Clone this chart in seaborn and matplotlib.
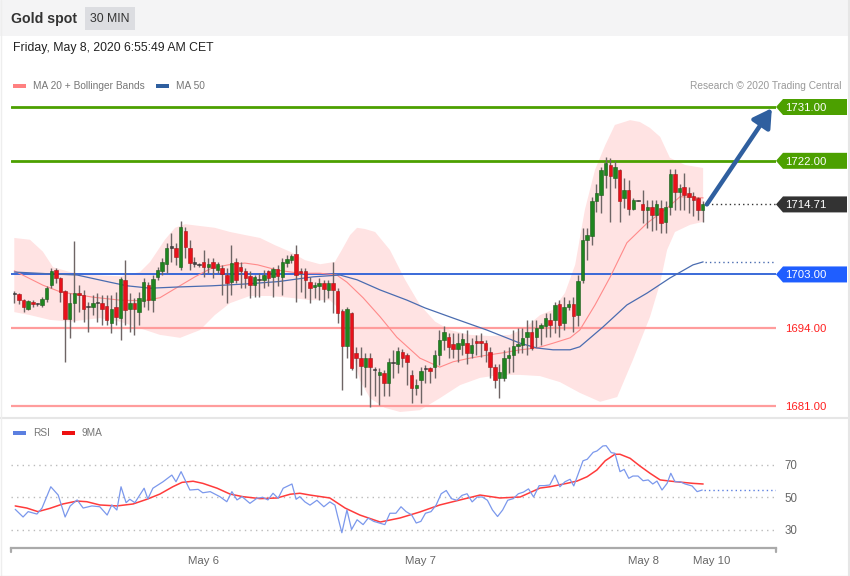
import numpy as np
import pandas as pd
import matplotlib
matplotlib.use("Agg")
import matplotlib.pyplot as plt
import matplotlib.transforms as mtransforms
from matplotlib.patches import Polygon, Rectangle
from matplotlib.lines import Line2D
import seaborn as sns

# ---------------- DATA ----------------
opens = [1699.7,1699.7,1698.7,1697.3,1698.4,1698.0,1697.9,1698.9,1701.2,1703.7,
         1702.4,1700.3,1695.5,1698.3,1699.9,1699.5,1697.5,1697.6,1698.2,1698.2,
         1697.7,1694.8,1697.5,1695.7,1702.1,1697.2,1698.3,1696.8,1698.6,1701.2,
         1698.7,1702.6,1703.5,1704.7,1707.5,1707.5,1704.3,1710.2,1707.4,1705.0,
         1704.6,1705.0,1704.3,1705.1,1703.7,1704.1,1702.9,1701.8,1705.1,1704.3,
         1703.5,1702.7,1701.2,1702.0,1702.1,1703.5,1702.6,1703.9,1702.6,1704.9,
         1705.4,1706.4,1703.6,1703.6,1701.8,1700.9,1701.0,1701.5,1700.4,1701.6,
         1700.3,1696.9,1691.0,1696.5,1689.8,1689.1,1687.6,1689.0,1687.1,1686.2,
         1686.6,1684.9,1688.3,1688.0,1690.1,1689.5,1686.2,1684.0,1685.3,1687.2,
         1687.3,1687.6,1689.5,1692.0,1692.5,1691.3,1690.5,1691.2,1691.5,1689.8,
         1691.8,1691.8,1691.5,1690.1,1687.6,1685.6,1685.6,1689.0,1689.5,1691.1,
         1691.2,1692.6,1693.4,1692.6,1694.0,1694.3,1695.4,1695.4,1698.1,1694.8,
         1697.6,1698.1,1696.2,1702.1,1708.7,1709.4,1715.3,1716.3,1719.6,1721.3,
         1719.1,1720.4,1715.7,1717.2,1713.9,1715.4,1714.7,1713.8,1714.2,1712.9,
         1714.1,1711.7,1714.3,1719.8,1716.8,1717.6,1716.6,1716.2,1715.7,1713.8]
highs = [1700.3,1699.9,1698.9,1698.8,1698.7,1698.3,1699.2,1701.0,1704.0,1704.1,
         1702.6,1700.4,1699.9,1708.6,1701.2,1700.4,1698.4,1699.6,1699.9,1699.6,
         1699.6,1699.6,1700.1,1702.6,1705.4,1699.9,1699.0,1700.1,1702.4,1701.7,
         1702.9,1704.3,1705.7,1708.2,1709.9,1708.2,1712.0,1711.0,1708.8,1706.0,
         1704.9,1707.1,1705.7,1705.7,1705.1,1704.6,1704.0,1707.9,1705.7,1705.1,
         1704.0,1703.5,1702.9,1703.2,1703.7,1703.7,1704.3,1704.6,1705.7,1706.3,
         1706.5,1707.9,1704.0,1704.0,1702.6,1701.8,1702.4,1702.1,1702.1,1705.1,
         1700.7,1697.3,1697.6,1696.8,1690.9,1690.9,1689.8,1689.8,1687.6,1687.3,
         1687.0,1689.0,1690.4,1690.8,1690.6,1689.8,1687.0,1685.5,1687.6,1687.9,
         1687.6,1690.4,1693.7,1694.3,1693.2,1693.2,1693.2,1693.2,1693.7,1692.3,
         1692.9,1693.2,1692.0,1690.9,1688.1,1688.1,1690.4,1690.9,1693.7,1694.0,
         1694.0,1695.4,1695.4,1695.4,1694.8,1696.5,1696.5,1698.4,1698.7,1699.3,
         1698.8,1699.3,1702.9,1710.7,1710.7,1716.0,1718.2,1721.0,1722.7,1722.4,
         1721.9,1720.7,1719.1,1718.8,1715.7,1715.5,1717.1,1715.4,1715.4,1715.4,
         1715.4,1715.2,1720.6,1720.6,1718.2,1719.9,1717.7,1716.8,1716.0,1715.2]
lows = [1698.2,1698.1,1696.8,1697.1,1697.6,1697.7,1697.6,1698.4,1700.7,1701.5,
        1698.4,1688.4,1692.3,1695.1,1696.8,1695.1,1693.3,1696.2,1695.1,1694.5,
        1694.5,1693.2,1694.5,1692.0,1694.5,1693.4,1692.8,1694.5,1697.6,1697.1,
        1696.8,1702.1,1702.9,1703.2,1705.1,1704.6,1703.7,1705.7,1703.7,1704.3,
        1704.3,1702.6,1703.2,1702.4,1703.2,1699.6,1698.2,1699.6,1701.5,1700.7,
        1700.7,1699.0,1699.3,1699.3,1700.7,1701.0,1699.3,1701.0,1699.6,1704.3,
        1704.9,1698.4,1700.1,1699.0,1698.2,1699.0,1698.7,1698.4,1699.0,1696.5,
        1694.8,1683.7,1689.0,1687.0,1685.6,1682.8,1684.2,1680.9,1682.6,1681.2,
        1682.6,1682.6,1685.6,1686.5,1687.6,1684.5,1681.5,1682.8,1681.5,1684.8,
        1684.8,1685.6,1687.9,1690.4,1689.0,1689.0,1688.4,1689.5,1688.1,1689.0,
        1689.5,1689.2,1688.4,1685.6,1684.0,1682.3,1685.1,1686.5,1686.7,1689.8,
        1689.8,1689.5,1690.4,1690.9,1691.2,1692.6,1692.6,1693.2,1692.6,1693.7,
        1697.1,1693.4,1694.3,1701.5,1705.4,1707.9,1713.5,1713.2,1717.4,1711.8,
        1717.4,1711.8,1714.1,1712.9,1713.8,1715.2,1711.6,1710.7,1710.2,1710.4,
        1709.9,1710.0,1712.9,1713.8,1713.8,1713.8,1713.2,1712.7,1712.1,1711.8]
closes = [1699.9,1698.7,1697.6,1698.6,1698.0,1698.1,1698.9,1700.7,1703.5,1702.4,
          1700.1,1695.5,1698.3,1699.9,1699.5,1697.3,1697.6,1698.2,1698.3,1697.3,
          1695.4,1697.3,1695.9,1702.2,1697.1,1698.3,1697.2,1699.1,1701.8,1698.7,
          1702.2,1703.7,1705.1,1707.5,1707.7,1706.0,1710.9,1707.6,1704.9,1704.8,
          1704.6,1704.2,1704.7,1704.1,1704.7,1703.0,1701.5,1704.9,1702.1,1703.5,
          1702.4,1701.2,1702.5,1702.1,1702.9,1702.4,1703.9,1702.8,1705.1,1705.6,
          1706.1,1702.9,1703.2,1702.0,1700.8,1701.2,1701.6,1700.5,1701.6,1700.4,
          1696.6,1691.0,1697.2,1687.4,1689.1,1687.7,1689.1,1687.5,1687.0,1686.7,
          1684.9,1688.3,1688.2,1690.2,1689.0,1688.4,1684.0,1684.5,1686.9,1687.3,
          1686.9,1689.5,1692.0,1693.4,1690.9,1690.5,1691.5,1692.2,1689.8,1691.2,
          1691.5,1691.5,1690.4,1687.6,1685.3,1686.7,1689.1,1689.5,1691.1,1691.4,
          1692.3,1693.4,1690.7,1694.0,1694.5,1695.7,1694.5,1697.9,1694.5,1697.6,
          1698.1,1696.1,1701.9,1708.8,1709.6,1715.2,1716.6,1720.4,1721.6,1719.5,
          1720.9,1715.2,1717.1,1713.9,1715.4,1715.3,1713.8,1714.3,1712.9,1714.7,
          1711.6,1714.3,1719.8,1716.8,1717.4,1716.3,1716.0,1715.4,1713.8,1714.71]

# Bollinger bands (bar index, price)
bb_up_x = [0, 3.4, 6.2, 8.4, 12.1, 17.0, 22.9, 27.2, 29.4, 32.6, 34.8, 37.0, 40.2, 43.4, 46.7,
           49.9, 53.2, 56.4, 59.7, 62.9, 66.2, 69.4, 70.9, 72.7, 74.2, 75.9, 78.1, 81.3, 84.6,
           87.8, 91.1, 94.3, 98.6, 103.0, 107.3, 110.5, 113.8, 116.6, 119.2, 121.4, 123.5,
           125.7, 127.9, 130.0, 133.3, 135.4, 137.6, 139.8, 141.9, 145.2, 149.1]
bb_up = [1709.1, 1708.8, 1706.8, 1704.2, 1703.4, 1702.9, 1702.7, 1703.4, 1705.1, 1708.8, 1710.8,
         1711.4, 1711.1, 1710.8, 1710.1, 1709.6, 1709.1, 1707.9, 1706.8, 1705.4, 1704.7, 1705.1,
         1707.1, 1709.6, 1710.8, 1710.6, 1710.1, 1707.1, 1702.1, 1697.9, 1695.1, 1693.7, 1692.9,
         1692.7, 1692.9, 1694.0, 1696.2, 1697.1, 1699.9, 1704.6, 1713.8, 1720.5, 1724.6, 1728.0,
         1728.8, 1728.5, 1727.5, 1726.0, 1722.5, 1721.3, 1720.8]
bb_lo_x = [0, 3.4, 7.7, 12.1, 18.5, 22.9, 27.2, 31.5, 35.9, 40.2, 43.4, 46.7, 51.0, 55.3, 59.7,
           64.0, 68.3, 70.5, 72.7, 74.8, 77.0, 80.2, 83.5, 87.8, 92.1, 96.5, 100.8, 105.1, 109.5,
           113.8, 118.1, 122.4, 126.8, 130.5, 133.9, 137.6, 139.8, 141.3, 143.0, 146.3, 149.1]
bb_lo = [1696.7, 1696.2, 1695.4, 1695.1, 1695.7, 1695.1, 1694.0, 1692.9, 1692.4, 1693.7, 1696.2,
         1698.2, 1699.4, 1699.4, 1699.1, 1698.7, 1698.7, 1697.1, 1691.2, 1685.3, 1682.3, 1680.7,
         1680.0, 1680.3, 1682.3, 1684.5, 1685.7, 1686.2, 1686.2, 1686.0, 1685.0, 1683.2, 1681.7,
         1682.5, 1688.7, 1695.9, 1701.6, 1707.1, 1710.1, 1711.3, 1711.8]
ma20_x = [0, 6.2, 9.9, 17.0, 22.9, 27.9, 31.5, 35.4, 39.1, 42.8, 46.3, 49.9, 52.7, 57.1, 61.8,
          66.2, 69.8, 72.0, 75.5, 79.2, 82.8, 87.8, 92.1, 95.0, 98.6, 102.3, 105.8, 109.5, 113.1,
          116.6, 120.3, 122.4, 125.7, 129.0, 132.6, 137.0, 141.3, 144.1, 149.1]
ma20 = [1703.6, 1701.2, 1700.1, 1699.2, 1698.7, 1698.6, 1699.1, 1700.9, 1702.6, 1704.1, 1704.6,
        1704.9, 1704.6, 1703.7, 1703.2, 1703.2, 1702.9, 1701.7, 1699.1, 1695.9, 1692.5, 1689.0,
        1687.5, 1688.4, 1689.0, 1689.5, 1689.9, 1690.4, 1690.7, 1691.5, 1692.4, 1693.7, 1697.9,
        1702.6, 1708.3, 1711.6, 1714.1, 1716.0, 1715.8]
ma50_x = [0, 7.7, 13.6, 20.7, 24.4, 29.4, 35.4, 42.8, 49.9, 57.1, 64.7, 70.5, 74.2, 79.2, 85.0,
          88.9, 95.0, 102.3, 109.5, 113.1, 116.6, 120.3, 122.4, 127.4, 132.6, 137.0, 141.9,
          146.9, 149.1]
ma50 = [1703.4, 1703.1, 1702.9, 1701.7, 1701.1, 1700.7, 1700.9, 1701.1, 1701.4, 1701.8, 1702.6,
        1702.9, 1702.1, 1700.4, 1698.7, 1697.4, 1695.7, 1693.7, 1691.5, 1690.7, 1690.4, 1690.4,
        1690.9, 1694.2, 1697.9, 1699.9, 1702.4, 1704.6, 1705.1]

# RSI panel
rsi_x = [0.2, 1.9, 3.0, 4.9, 6.0, 7.9, 9.5, 11.0, 12.1, 13.6, 14.9, 16.8, 18.5, 20.1, 21.1, 22.2,
         23.1, 24.2, 25.0, 26.1, 28.1, 28.9, 30.0, 32.2, 34.1, 35.0, 36.1, 38.0, 39.8, 40.8, 42.4,
         44.5, 46.0, 47.1, 48.2, 49.3, 51.0, 52.5, 53.8, 54.9, 56.0, 57.1, 58.2, 60.1, 61.0, 61.8,
         62.9, 64.0, 65.5, 67.0, 68.3, 69.4, 70.0, 70.9, 72.0, 73.0, 74.2, 75.5, 76.6, 77.8, 79.0,
         80.2, 81.3, 82.6, 83.7, 84.8, 86.0, 87.0, 88.0, 89.0, 90.2, 91.3, 92.4, 93.5, 94.6, 95.8,
         96.9, 98.0, 99.1, 100.2, 101.3, 102.4, 103.5, 104.6, 105.7, 106.8, 108.0, 109.1, 110.2,
         111.3, 112.4, 113.6, 114.7, 115.9, 117.0, 118.1, 119.2, 120.3, 121.1, 123.1, 124.0, 125.3,
         126.1, 127.4, 128.1, 129.2, 130.0, 131.1, 132.0, 133.0, 133.9, 135.0, 136.1, 137.2, 138.2,
         139.1, 140.2, 141.3, 142.1, 143.0, 144.1, 145.2, 146.7, 147.8, 148.9]
rsi = [42.4, 37.7, 41.0, 39.5, 43.2, 56.3, 51.2, 37.7, 44.5, 48.2, 43.2, 44.5, 44.0, 38.9, 45.1, 42.0,
       56.3, 46.5, 48.6, 46.5, 55.4, 48.8, 55.4, 59.4, 63.5, 59.4, 65.6, 54.3, 54.7, 52.6, 53.3,
       50.2, 47.1, 53.3, 48.2, 50.2, 46.1, 49.2, 49.8, 48.2, 52.3, 49.2, 55.4, 58.0, 48.6, 50.2,
       47.0, 45.0, 48.0, 44.0, 47.0, 45.0, 38.0, 28.0, 42.0, 30.0, 36.0, 33.0, 37.0, 35.0, 34.0,
       33.0, 40.0, 40.0, 44.0, 41.0, 39.0, 34.0, 35.0, 40.0, 41.0, 45.0, 52.0, 54.0, 49.0, 48.0,
       51.0, 52.0, 47.0, 50.0, 50.0, 48.0, 42.0, 38.0, 42.0, 48.0, 49.0, 52.0, 53.0,
       55.0, 50.0, 57.0, 57.0, 57.4, 63.5, 56.3, 59.4, 60.9, 56.8, 72.3, 73.2, 77.5,
       78.3, 81.4, 81.6, 77.3, 76.9, 65.6, 67.0, 61.5, 62.9, 62.9, 60.0, 60.5, 58.0,
       59.8, 54.3, 58.4, 64.6, 59.4, 59.4, 58.0, 56.8, 53.3, 54.3]
ma9_x = [0.2, 2.7, 5.1, 7.7, 10.5, 13.6, 15.7, 18.5, 22.2, 25.7, 28.7, 31.5, 34.3, 36.3, 38.7, 40.8,
         43.9, 46.7, 49.5, 53.2, 56.9, 59.7, 61.8, 64.0, 68.3, 71.6, 74.8, 79.2, 83.5, 87.8, 92.1,
         96.5, 100.8, 105.1, 109.5, 113.8, 115.9, 119.6, 121.8, 124.0, 126.1, 127.9, 130.0, 131.1,
         133.3, 135.4, 137.6, 139.8, 141.9, 144.7, 146.9, 149.1]
ma9 = [44.5, 43.2, 41.0, 43.0, 45.7, 47.5, 47.1, 45.1, 44.5, 45.7, 48.6, 51.8, 56.3, 59.0, 59.7, 58.4,
       55.4, 51.8, 50.2, 49.0, 49.4, 51.7, 52.3, 51.2, 49.4, 43.2, 38.9, 34.6, 37.1, 40.8, 45.1,
       48.2, 51.2, 49.4, 50.0, 55.5, 56.3, 58.4, 59.8, 62.5, 66.6, 72.3, 76.3, 76.3,
       73.8, 69.1, 64.6, 60.5, 59.8, 59.0, 58.4, 58.0]
rsi_levels = [70, 50, 30]

# Levels
resistances = [1731.00, 1722.00]
pivot = 1703.00
supports = [1694.00, 1681.00]
target = 1731.00

date_pos = [41.06, 88.03, 136.1, 151.0]
date_labels = ["May 6", "May 7", "May 8", "May 10"]

title = "Gold spot"
interval = "30 MIN"
timestamp = "Friday, May 8, 2020 6:55:49 AM CET"

# ---------------- STYLE ----------------
sns.set_theme(style="white")
plt.rcParams['font.family'] = ['Liberation Sans', 'DejaVu Sans']

W, H = 850, 576
fig = plt.figure(figsize=(W / 100, H / 100), dpi=100)
fig.patch.set_facecolor('white')

def fx(px):
    return px / W

def fy(py):
    return 1 - py / H

# header band
fig.patches.append(Rectangle((0, fy(36)), 1, 36 / H, transform=fig.transFigure,
                             facecolor='#f4f4f5', edgecolor='none', zorder=0))
fig.patches.append(Rectangle((fx(85), fy(30)), fx(135) - fx(85), 23 / H, transform=fig.transFigure,
                             facecolor='#dcdde1', edgecolor='none', zorder=1))
fig.text(fx(11), fy(19), title, fontsize=10.2, fontweight='bold', color='#333333', va='center')
fig.text(fx(110), fy(19), interval, fontsize=8.8, color='#333333', va='center', ha='center')
fig.text(fx(13), fy(48), timestamp, fontsize=8.8, color='#222222', va='center')

# outer border + separator
fig.add_artist(Line2D([0, 1], [fy(418), fy(418)], transform=fig.transFigure, color='#e6e6e6', lw=1.5))
fig.add_artist(Line2D([fx(848.5), fx(848.5)], [0, 1], transform=fig.transFigure, color='#e6e6e6', lw=1.5))
fig.add_artist(Line2D([fx(0.5), fx(0.5)], [0, 1], transform=fig.transFigure, color='#eeeeee', lw=1))
fig.add_artist(Line2D([0, 1], [fy(575.5), fy(575.5)], transform=fig.transFigure, color='#e6e6e6', lw=1))

# legends
def legend_item(x0, y, color, text):
    fig.patches.append(Rectangle((fx(x0), fy(y + 2)), 13 / W, 4 / H, transform=fig.transFigure,
                                 facecolor=color, edgecolor='none'))
    fig.text(fx(x0 + 20), fy(y), text, fontsize=7.3, color='#777777', va='center')

legend_item(13, 86, '#ff8080', 'MA 20 + Bollinger Bands')
legend_item(156, 86, '#2f5f9f', 'MA 50')
fig.text(fx(841), fy(86), 'Research \u00a9 2020 Trading Central', fontsize=7.3, color='#999999',
         va='center', ha='right')
legend_item(13, 433, '#5b7fe0', 'RSI')
legend_item(62, 433, '#ee1111', '9MA')

# ---------------- MAIN PANEL ----------------
px_per_bar = 4.62
x_first = 14.3
xmin = (11 - x_first) / px_per_bar
xmax = (776 - x_first) / px_per_bar
ppu = 5.98  # pixels per price unit
y_top_px, y_bot_px = 95, 416
ymax = 1731 + (107 - y_top_px) / ppu
ymin = 1731 - (y_bot_px - 107) / ppu

ax = fig.add_axes([fx(11), fy(y_bot_px), fx(776) - fx(11), (y_bot_px - y_top_px) / H])
ax.set_xlim(xmin, xmax)
ax.set_ylim(ymin, ymax)
ax.patch.set_alpha(0)
for s in ax.spines.values():
    s.set_visible(False)
ax.set_xticks([])
ax.set_yticks([])

# Bollinger fill
poly_x = list(bb_up_x) + list(bb_lo_x[::-1])
poly_y = list(bb_up) + list(bb_lo[::-1])
ax.fill(poly_x, poly_y, color='#ffe3e3', lw=0, zorder=1)

# levels
for r in resistances:
    ax.axhline(r, color='#4ca000', lw=2, zorder=2)
ax.axhline(pivot, color='#2b5fd6', lw=1.3, zorder=2)
for s_ in supports:
    ax.axhline(s_, color='#ff9c9c', lw=1.6, zorder=2)

# moving averages
sns.lineplot(x=ma20_x, y=ma20, ax=ax, color='#ff8a8a', lw=0.8, zorder=3)
sns.lineplot(x=ma50_x, y=ma50, ax=ax, color='#4a6cb0', lw=0.9, zorder=3)

# candles
df = pd.DataFrame({'o': opens, 'h': highs, 'l': lows, 'c': closes})
df['i'] = np.arange(len(df))
diff = df['c'] - df['o']
colors = np.where(diff.abs() < 0.25, '#444444', np.where(diff > 0, '#1f851f', '#e8111b'))
edges = np.where(diff.abs() < 0.25, '#333333', np.where(diff > 0, '#1d5a1d', '#a01818'))
ax.vlines(df['i'], df['l'], df['h'], color='#6e6565', lw=1.0, zorder=4)
bottoms = np.minimum(df['o'], df['c'])
heights = np.maximum(diff.abs(), 0.2)
ax.bar(df['i'], heights, bottom=bottoms, width=0.75, color=colors, edgecolor=edges,
       linewidth=0.4, zorder=5)

# dotted leaders
last_i = df['i'].iloc[-1]
last_c = df['c'].iloc[-1]
ax.plot([last_i + 0.9, xmax], [last_c, last_c], ls=(0, (1, 2.2)), color='#333333', lw=1, zorder=3)
ax.plot([ma50_x[-1] + 0.3, xmax], [ma50[-1], ma50[-1]], ls=(0, (1, 2.2)), color='#4a6cb0', lw=1, zorder=3)

# forecast arrow
ax.annotate('', xy=(xmax - 0.9, target - 0.2), xytext=(last_i + 0.9, last_c),
            arrowprops=dict(arrowstyle='-|>,head_length=0.55,head_width=0.32', color='#2f5f9f',
                            lw=3.2, shrinkA=0, shrinkB=0, mutation_scale=20),
            annotation_clip=False, zorder=6)

# right-hand labels
trans = mtransforms.blended_transform_factory(ax.transAxes, ax.transData)
axw = 776 - 11
hh = 8 / ppu

def tag(price, color, text_color='white', box=True):
    label = f"{price:.2f}"
    if box:
        x0 = 1.0
        x1 = 1.0 + 7 / axw
        x2 = 1.0 + (847 - 776) / axw
        ax.add_patch(Polygon([[x0, price], [x1, price + hh], [x2, price + hh], [x2, price - hh],
                              [x1, price - hh]], closed=True, transform=trans, facecolor=color,
                             edgecolor='none', clip_on=False, zorder=7))
    ax.text(1.0 + 9 / axw, price - 0.15, label, transform=trans, color=text_color, fontsize=8.2,
            va='center', ha='left', clip_on=False, zorder=8)

for r in resistances:
    tag(r, '#4ca000')
tag(last_c, '#333333')
tag(pivot, '#1f5eff')
for s_ in supports:
    tag(s_, None, text_color='#ff2020', box=False)

# ---------------- RSI PANEL ----------------
rpu = 1.625
r_top, r_bot = 420, 548
rymax = 50 + (497 - r_top) / rpu
rymin = 50 - (r_bot - 497) / rpu
ax2 = fig.add_axes([fx(11), fy(r_bot), fx(776) - fx(11), (r_bot - r_top) / H])
ax2.set_xlim(xmin, xmax)
ax2.set_ylim(rymin, rymax)
ax2.patch.set_alpha(0)
for k, s in ax2.spines.items():
    s.set_visible(k == 'bottom')
ax2.spines['bottom'].set_color('#aaaaaa')
ax2.spines['bottom'].set_linewidth(1.6)

for lv in rsi_levels:
    ax2.axhline(lv, color='#bbbbbb', ls=(0, (1, 3)), lw=1, zorder=1)
ax2.yaxis.tick_right()
ax2.set_yticks(rsi_levels)
ax2.set_yticklabels([str(v) for v in rsi_levels])
ax2.tick_params(axis='y', length=0, pad=6, labelsize=8.3, labelcolor='#666666')
ax2.set_xticks(date_pos)
ax2.set_xticklabels(date_labels)
ax2.tick_params(axis='x', length=0, pad=6, labelsize=8.2, labelcolor='#666666')

sns.lineplot(x=ma9_x, y=ma9, ax=ax2, color='#ff3b3b', lw=1.1, zorder=3)
sns.lineplot(x=rsi_x, y=rsi, ax=ax2, color='#7b98ec', lw=0.9, zorder=4)
ax2.plot([rsi_x[-1] + 0.3, xmax], [rsi[-1], rsi[-1]], ls=(0, (1, 2.2)), color='#5b7fe0', lw=1, zorder=3)
ax2.set_xlabel('')
ax2.set_ylabel('')
ax.set_xlabel('')
ax.set_ylabel('')

# end ticks of x axis
for xe in (xmin + 0.1, xmax - 0.1):
    ax2.plot([xe, xe], [rymin, rymin - 2.6], color='#aaaaaa', lw=1.6, clip_on=False, zorder=5)

fig.savefig('out.png', dpi=100)
